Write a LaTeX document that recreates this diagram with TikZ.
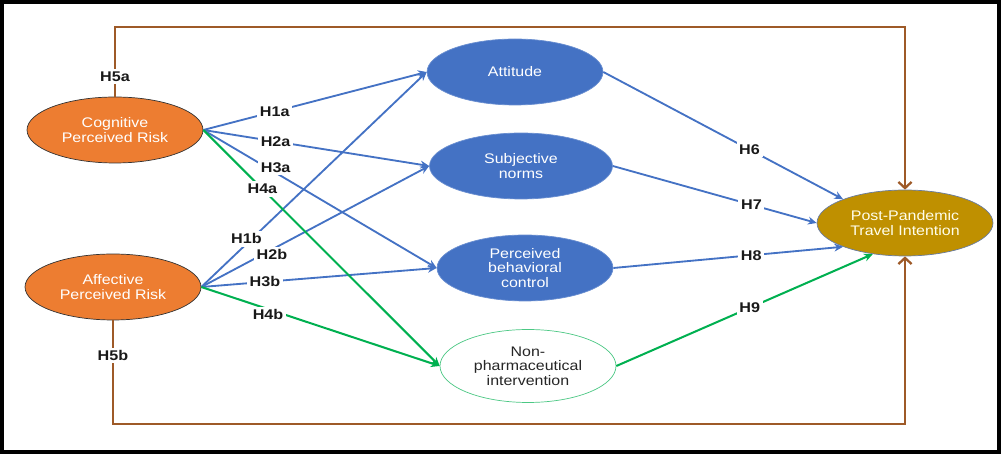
\documentclass[tikz,border=0pt]{standalone}
\usepackage{fontspec}
\setmainfont{Liberation Sans}[FakeStretch=1.15]
\usetikzlibrary{arrows.meta,shapes.geometric}

\definecolor{riskorange}{RGB}{237,125,49}
\definecolor{tpbblue}{RGB}{68,114,196}
\definecolor{npigreen}{RGB}{0,176,80}
\definecolor{intentgold}{RGB}{191,144,0}
\definecolor{pathbrown}{RGB}{158,90,40}

\begin{document}
\begin{tikzpicture}[x=0.02cm, y=-0.02cm]
    \tikzset{
        construct/.style={ellipse, minimum width=3.52cm, minimum height=1.32cm, inner sep=0pt, align=center, font=\fontsize{7.9}{8.3}\selectfont, text=white},
        riskstyle/.style={construct, fill=riskorange, draw=black!80, thin},
        tpbstyle/.style={construct, fill=tpbblue, draw=tpbblue!80!white},
        npistyle/.style={construct, fill=white, draw=npigreen!70!white, text=black!85},
        intentstyle/.style={construct, fill=intentgold, draw=tpbblue!60!black!70, text=white!92!yellow},
        hlabel/.style={font=\fontsize{8}{8.5}\selectfont\bfseries, fill=white, inner sep=1.5pt, text=black!90},
        bluepath/.style={tpbblue, line width=1.05pt, -{Stealth[length=5pt,width=4.5pt]}},
        greenpath/.style={npigreen, line width=1.15pt, -{Stealth[length=5pt,width=4.5pt]}},
        brownpath/.style={pathbrown, line width=1.3pt, -{Straight Barb[length=3.5pt,width=7.5pt]}}
    }

    \useasboundingbox (0,0) rectangle (1002,455);
    \draw[line width=1.8pt] (2,2) rectangle (999,452);

    % --- CONSTRUCTS ---
    \node[riskstyle] (cogrisk) at (115,130) {Cognitive\\Perceived Risk};
    \node[riskstyle] (affrisk) at (113,287) {Affective\\Perceived Risk};
    \node[tpbstyle] (attitude) at (515,72) {Attitude};
    \node[tpbstyle, minimum width=3.66cm] (subnorm) at (521,166) {Subjective\\norms};
    \node[tpbstyle] (pbc) at (525,268) {Perceived\\behavioral\\control};
    \node[npistyle, minimum height=1.46cm] (npi) at (528,366) {Non-\\pharmaceutical\\intervention};
    \node[intentstyle] (intent) at (905,223) {Post-Pandemic\\Travel Intention};

    % --- DIRECT PATHS (brown) ---
    \coordinate (topleft) at (115,27);
    \coordinate (topright) at (905,27);
    \coordinate (botleft) at (113,424);
    \coordinate (botright) at (905,424);
    \draw[brownpath] (cogrisk.north) -- node[hlabel, pos=0.29] (lblhfivea) {H5a} (topleft) -- (topright) -- (intent.north);
    \draw[brownpath] (affrisk.south) -- node[hlabel, pos=0.34] (lblhfiveb) {H5b} (botleft) -- (botright) -- (intent.south);

    % --- RISK -> TPB (blue) ---
    \draw[bluepath] (cogrisk.east) -- node[hlabel, pos=0.32] (lblhonea) {H1a} (attitude.west);
    \draw[bluepath] (cogrisk.east) -- node[hlabel, pos=0.32] (lblhtwoa) {H2a} (subnorm.west);
    \draw[bluepath] (cogrisk.east) -- node[hlabel, pos=0.31, yshift=3pt] (lblhthreea) {H3a} (pbc.west);
    \draw[bluepath] (affrisk.east) -- node[hlabel, pos=0.2, yshift=3pt] (lblhoneb) {H1b} (attitude.west);
    \draw[bluepath] (affrisk.east) -- node[hlabel, pos=0.31, yshift=-3pt] (lblhtwob) {H2b} (subnorm.west);
    \draw[bluepath] (affrisk.east) -- node[hlabel, pos=0.27] (lblhthreeb) {H3b} (pbc.west);

    % --- RISK -> NPI (green) ---
    \draw[greenpath] (cogrisk.east) -- node[hlabel, pos=0.25] (lblhfoura) {H4a} (npi.west);
    \draw[greenpath] (affrisk.east) -- node[hlabel, pos=0.28, yshift=-3pt] (lblhfourb) {H4b} (npi.west);

    % --- MEDIATORS -> INTENTION ---
    \draw[bluepath] (attitude.east) -- node[hlabel, pos=0.61] (lblhsix) {H6} (intent.159);
    \draw[bluepath] (subnorm.east) -- node[hlabel, pos=0.68] (lblhseven) {H7} (intent.west);
    \draw[bluepath] (pbc.east) -- node[hlabel, pos=0.6] (lblheight) {H8} (intent.201);
    \draw[greenpath] (npi.east) -- node[hlabel, pos=0.52] (lblhnine) {H9} (intent.224);

\end{tikzpicture}
\end{document}
